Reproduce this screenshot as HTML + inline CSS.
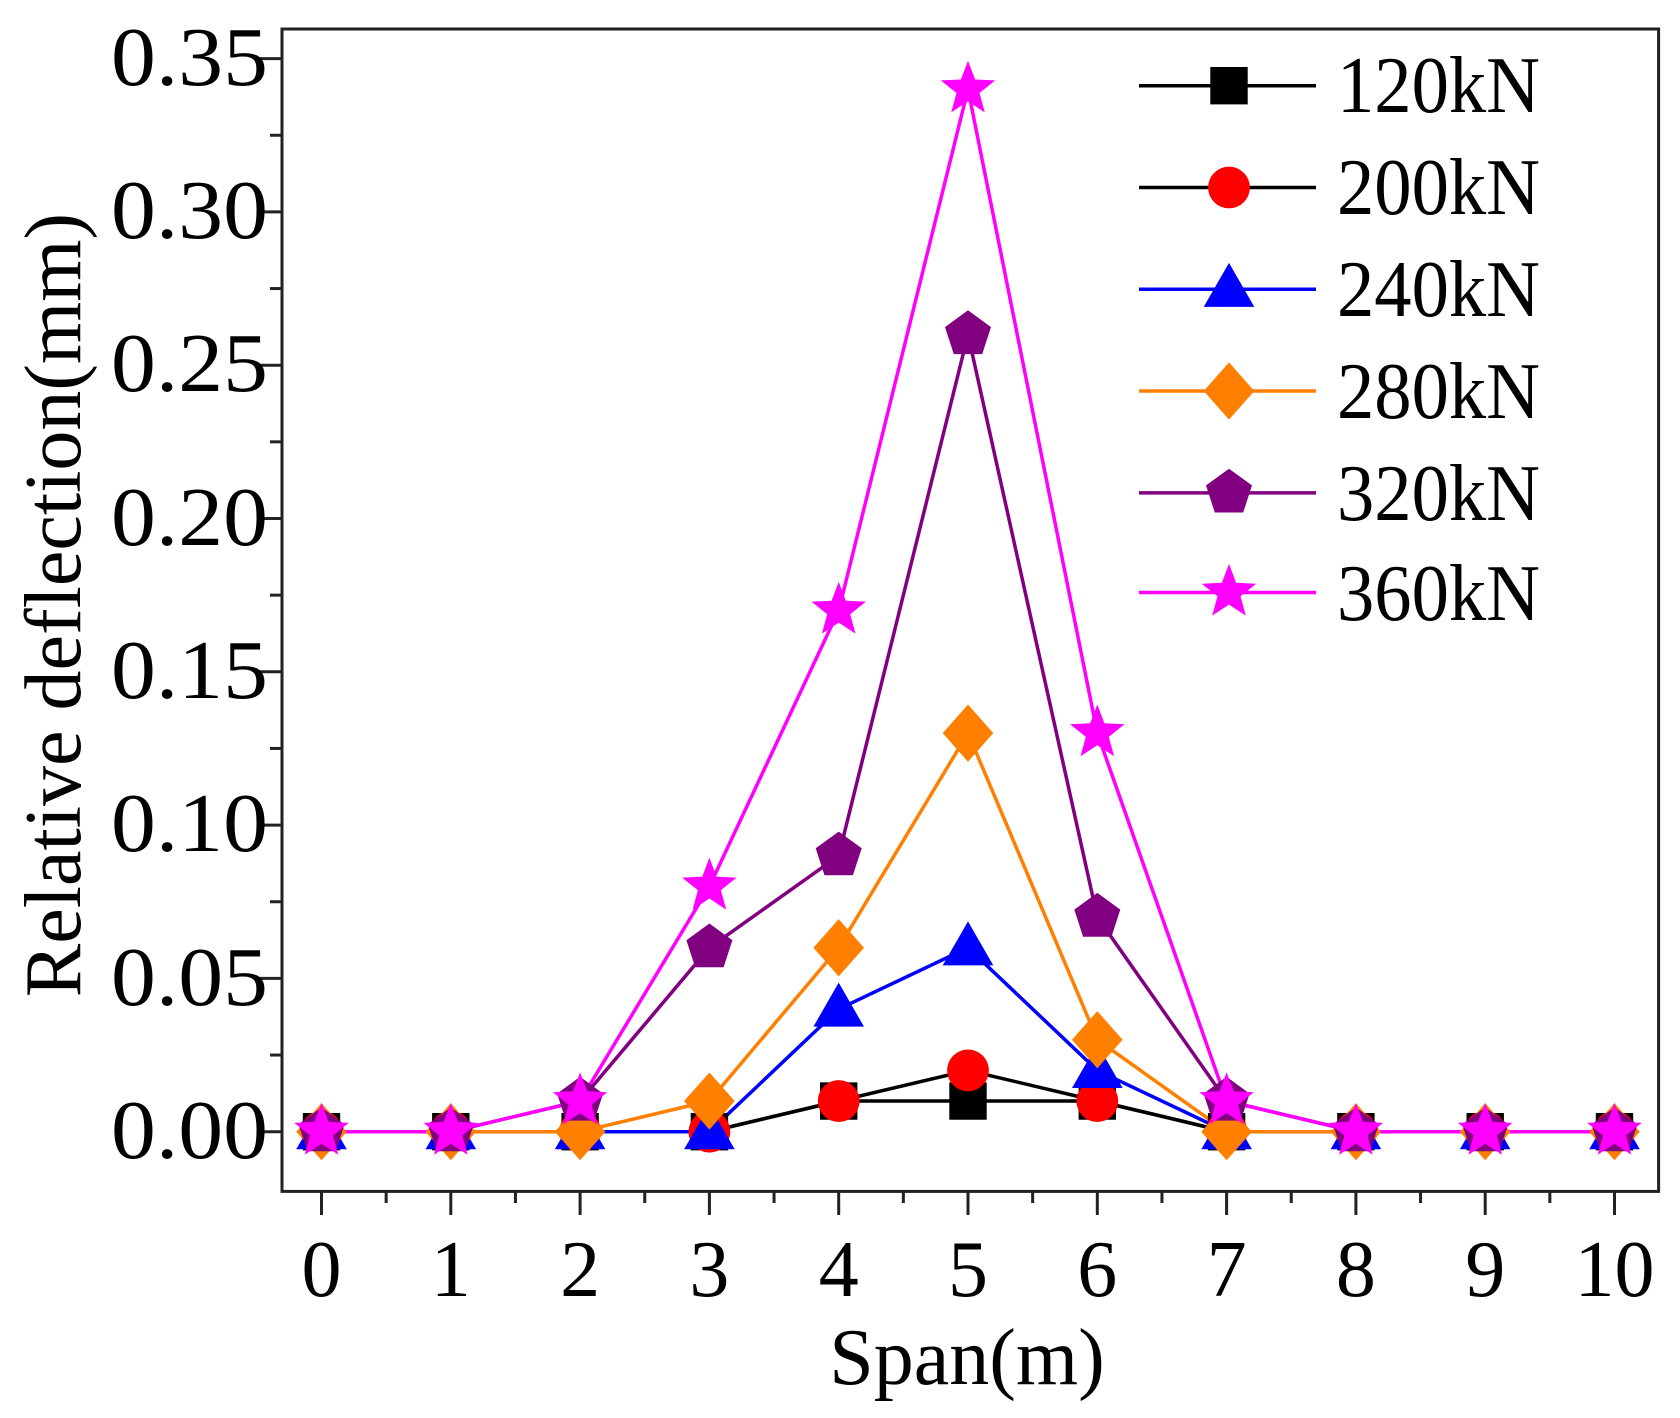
<!DOCTYPE html>
<html><head><meta charset="utf-8"><style>html,body{margin:0;padding:0;background:#fff}svg{display:block}</style></head>
<body>
<svg id="s" width="1680" height="1418" viewBox="0 0 1680 1418" xmlns="http://www.w3.org/2000/svg" font-family="Liberation Serif, serif">
<rect x="0" y="0" width="1680" height="1418" fill="#fff"/>
<g id="axes"></g>
<g id="data"></g>
<g font-size="84" fill="#000" text-anchor="end">
<text x="268" y="1158" textLength="157" lengthAdjust="spacingAndGlyphs">0.00</text>
<text x="268" y="1005" textLength="157" lengthAdjust="spacingAndGlyphs">0.05</text>
<text x="268" y="851" textLength="157" lengthAdjust="spacingAndGlyphs">0.10</text>
<text x="268" y="698" textLength="157" lengthAdjust="spacingAndGlyphs">0.15</text>
<text x="268" y="545" textLength="157" lengthAdjust="spacingAndGlyphs">0.20</text>
<text x="268" y="391" textLength="157" lengthAdjust="spacingAndGlyphs">0.25</text>
<text x="268" y="238" textLength="157" lengthAdjust="spacingAndGlyphs">0.30</text>
<text x="268" y="85" textLength="157" lengthAdjust="spacingAndGlyphs">0.35</text>
</g>
<g font-size="80" fill="#000" text-anchor="middle">
<text x="321.5" y="1296">0</text>
<text x="450.8" y="1296">1</text>
<text x="580.1" y="1296">2</text>
<text x="709.4" y="1296">3</text>
<text x="838.7" y="1296">4</text>
<text x="968" y="1296">5</text>
<text x="1097.3" y="1296">6</text>
<text x="1226.6" y="1296">7</text>
<text x="1355.9" y="1296">8</text>
<text x="1485.2" y="1296">9</text>
<text x="1614.5" y="1296">10</text>
<text x="967" y="1384">Span(m)</text>
<text transform="translate(80,605) rotate(-90)">Relative deflection(mm)</text>
</g>
<g font-size="80" fill="#000">
<text x="1337" y="112" textLength="203" lengthAdjust="spacingAndGlyphs">120kN</text>
<text x="1337" y="214" textLength="203" lengthAdjust="spacingAndGlyphs">200kN</text>
<text x="1337" y="316" textLength="203" lengthAdjust="spacingAndGlyphs">240kN</text>
<text x="1337" y="418" textLength="203" lengthAdjust="spacingAndGlyphs">280kN</text>
<text x="1337" y="520" textLength="203" lengthAdjust="spacingAndGlyphs">320kN</text>
<text x="1337" y="620" textLength="203" lengthAdjust="spacingAndGlyphs">360kN</text>
</g>
</svg>
<script>
const NS="http://www.w3.org/2000/svg";
function el(p,t,a){const e=document.createElementNS(NS,t);for(const k in a)e.setAttribute(k,a[k]);p.appendChild(e);return e;}
const ax=document.getElementById('axes'),dg=document.getElementById('data');
const X=v=>321.5+129.3*v, Y=v=>1131.7-v/0.05*153.3;
el(ax,'rect',{x:282,y:29,width:1376.6,height:1162.4,fill:'none',stroke:'#222',"stroke-width":3});
for(let i=0;i<=14;i++){const y=Y(i*0.025);if(y<29)continue;el(ax,'line',{x1:282,x2:i%2?270:258,y1:y,y2:y,stroke:'#222',"stroke-width":3});}
for(let i=0;i<=20;i++){const x=X(i/2);el(ax,'line',{x1:x,x2:x,y1:1191,y2:i%2?1203:1215,stroke:'#222',"stroke-width":3});}
const series=[
 ['#000','sq',[0,0,0,0,0.01,0.01,0.01,0,0,0,0]],
 ['#000','ci',[0,0,0,0,0.01,0.02,0.01,0,0,0,0],'#f00'],
 ['#00f','tr',[0,0,0,0,0.04,0.06,0.02,0,0,0,0]],
 ['#ff7f00','di',[0,0,0,0.01,0.06,0.13,0.03,0,0,0,0]],
 ['#800080','pe',[0,0,0.01,0.06,0.09,0.26,0.07,0.01,0,0,0]],
 ['#f0f','st',[0,0,0.01,0.08,0.17,0.34,0.13,0.01,0,0,0]]];
function marker(g,t,x,y,c){
 const r=22;
 if(t=='sq')el(g,'rect',{x:x-r*0.85,y:y-r*0.85,width:r*1.7,height:r*1.7,fill:c});
 else if(t=='ci')el(g,'circle',{cx:x,cy:y,r:r*0.95,fill:c});
 else if(t=='tr')el(g,'polygon',{points:`${x},${y-r*1.2} ${x+r*1.15},${y+r*0.8} ${x-r*1.15},${y+r*0.8}`,fill:c});
 else if(t=='di')el(g,'polygon',{points:`${x},${y-r*1.3} ${x+r*1.15},${y} ${x},${y+r*1.3} ${x-r*1.15},${y}`,fill:c});
 else {const n=t=='pe'?5:10;let p=[];for(let i=0;i<n;i++){const a=-Math.PI/2+i*2*Math.PI/n;const rr=t=='pe'?r*1.1:(i%2?r*0.55:r*1.3);p.push((x+rr*Math.cos(a)).toFixed(1)+','+(y+rr*Math.sin(a)).toFixed(1));}el(g,'polygon',{points:p.join(' '),fill:c});}
}
const ly=[85.7,187.5,289.3,391,492.9,592.5];
series.forEach((s,k)=>{
 const pts=s[2].map((v,i)=>X(i).toFixed(1)+','+Y(v).toFixed(1)).join(' ');
 el(dg,'polyline',{points:pts,fill:'none',stroke:s[0],"stroke-width":3.5});
 el(dg,'line',{x1:1139,x2:1316,y1:ly[k],y2:ly[k],stroke:s[0],"stroke-width":3.5});
});
series.forEach((s,k)=>{
 const mc=s[3]||s[0];
 s[2].forEach((v,i)=>marker(dg,s[1],X(i),Y(v),mc));
 marker(dg,s[1],1229,ly[k],mc);
});
</script>
</body></html>
